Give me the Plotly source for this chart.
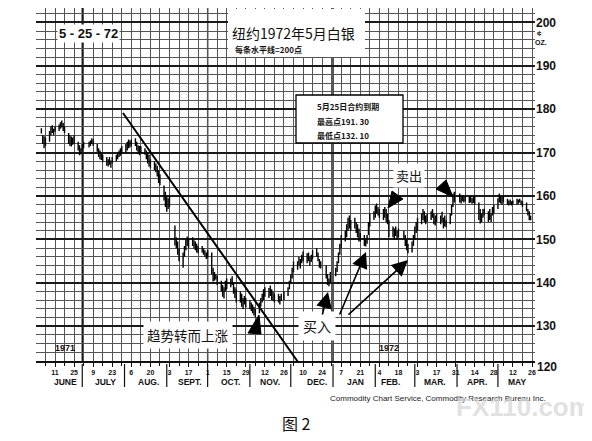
import pandas as pd
import plotly.graph_objects as go

# ---------------- data (weekly blocks of daily bars) ----------------
week_end = pd.date_range("1971-06-04", "1972-05-26", freq="W-FRI")
closed = ["1971-05-31", "1971-07-05", "1971-09-06", "1971-11-25", "1971-12-24",
          "1971-12-31", "1972-02-21", "1972-03-31", "1972-05-26"]

highs = [
    [175.6, 174.0, 173.8, 173.5],
    [175.0, 176.0, 176.3, 175.5, 176.0],
    [176.5, 177.0, 177.4, 176.8, 176.0],
    [174.5, 174.0, 173.7, 173.5, 174.0],
    [172.5, 171.7, 171.0, 172.0, 172.5],
    [172.5, 172.8, 173.3, 173.0],
    [172.0, 171.0, 170.5, 170.0, 169.5],
    [169.0, 168.5, 169.0, 168.2, 169.0],
    [169.5, 170.0, 170.5, 171.0, 171.5],
    [172.0, 172.5, 173.0, 172.8, 173.0],
    [173.3, 172.5, 171.7, 171.5, 171.5],
    [171.0, 170.5, 170.0, 169.5, 168.5],
    [168.0, 167.5, 167.0, 166.0, 165.0],
    [162.4, 161.0, 160.0, 159.5, 160.0],
    [153.2, 150.5, 149.5, 148.0],
    [147.0, 148.5, 150.0, 150.7, 150.2],
    [150.5, 149.8, 149.5, 149.0, 148.5],
    [148.5, 148.0, 147.5, 147.0, 147.5],
    [147.0, 143.5, 142.5, 142.0, 141.7],
    [140.5, 139.5, 139.0, 140.5, 141.0],
    [141.0, 141.5, 140.0, 139.0, 138.5],
    [138.0, 137.5, 136.5, 137.0, 136.5],
    [136.0, 135.5, 135.0, 134.5, 134.0],
    [135.5, 136.5, 137.5, 138.5, 139.0],
    [138.8, 139.4, 138.5, 138.0, 137.5],
    [137.5, 137.0, 137.5, 138.0],
    [139.0, 140.5, 142.0, 143.5, 144.9],
    [145.0, 146.0, 145.5, 146.5, 147.2],
    [146.8, 147.0, 146.0, 146.5, 147.5],
    [148.0, 147.0, 145.5, 145.0],
    [144.0, 142.0, 141.0, 142.5],
    [143.5, 145.0, 147.0, 149.0, 151.0],
    [152.0, 153.5, 155.0, 155.5, 154.5],
    [155.0, 154.0, 153.5, 152.5, 151.5],
    [151.0, 150.0, 151.0, 154.0, 156.0],
    [156.5, 157.8, 158.3, 157.5, 157.0],
    [157.0, 157.5, 157.0, 156.0, 154.5],
    [153.0, 152.5, 153.0, 152.0, 152.5],
    [152.0, 151.0, 150.0, 149.0],
    [149.5, 151.0, 153.0, 154.0, 155.0],
    [156.0, 157.0, 156.5, 155.5, 156.0],
    [156.5, 157.0, 156.0, 155.5, 156.0],
    [155.5, 156.4, 155.0, 155.5, 154.5],
    [156.0, 158.0, 160.5, 161.0],
    [160.6, 160.0, 160.2, 159.8, 160.0],
    [159.8, 160.0, 159.5, 159.8, 160.0],
    [158.5, 157.0, 156.0, 157.0, 157.1],
    [156.5, 157.0, 156.0, 157.5, 158.0],
    [159.5, 160.6, 160.0, 159.8, 160.0],
    [159.4, 159.0, 159.2, 158.8, 159.0],
    [159.4, 159.2, 159.4, 159.0, 158.8],
    [158.5, 157.0, 156.5, 155.5],
]
lows = [
    [174.4, 172.0, 171.0, 171.5],
    [172.5, 174.0, 174.5, 174.0, 174.8],
    [175.0, 175.5, 175.8, 175.0, 174.5],
    [172.0, 171.5, 171.4, 171.8, 172.0],
    [170.5, 169.4, 169.6, 170.5, 171.0],
    [171.2, 171.5, 172.0, 171.6],
    [170.2, 169.0, 168.5, 168.3, 167.8],
    [167.0, 166.8, 167.2, 166.5, 167.5],
    [168.0, 168.5, 169.0, 169.3, 169.8],
    [170.0, 170.5, 171.0, 171.2, 171.5],
    [171.5, 170.5, 169.8, 169.4, 170.0],
    [169.5, 168.5, 167.5, 166.8, 166.4],
    [166.0, 165.5, 164.5, 163.0, 162.5],
    [159.0, 157.5, 156.4, 157.0, 157.5],
    [148.6, 148.0, 146.5, 145.0],
    [143.5, 146.0, 147.5, 148.5, 148.0],
    [148.5, 148.0, 147.5, 147.0, 146.8],
    [147.0, 146.5, 146.0, 145.5, 145.8],
    [142.0, 140.3, 140.5, 140.8, 139.5],
    [138.0, 136.8, 136.4, 138.0, 138.5],
    [139.0, 139.5, 137.5, 136.5, 135.5],
    [135.5, 134.5, 134.0, 135.0, 134.3],
    [134.0, 133.5, 133.0, 132.5, 132.1],
    [133.0, 134.5, 135.5, 136.0, 136.8],
    [136.5, 137.0, 136.0, 135.8, 135.5],
    [135.5, 135.0, 135.8, 136.0],
    [137.0, 138.5, 140.0, 141.0, 142.5],
    [143.0, 144.0, 143.3, 144.5, 145.0],
    [144.5, 145.0, 144.0, 144.8, 145.5],
    [146.0, 145.0, 143.5, 143.3],
    [141.0, 139.5, 139.2, 140.0],
    [141.5, 142.5, 144.5, 146.5, 148.0],
    [149.5, 150.5, 152.0, 152.5, 152.0],
    [152.5, 151.5, 150.5, 149.5, 149.5],
    [148.5, 148.4, 149.0, 151.0, 153.0],
    [154.5, 155.0, 156.0, 155.5, 155.0],
    [154.5, 155.0, 154.0, 153.5, 150.5],
    [150.5, 150.0, 150.8, 150.0, 150.5],
    [150.0, 148.5, 147.5, 146.8],
    [147.0, 148.5, 150.0, 151.5, 152.0],
    [153.5, 154.5, 154.0, 153.5, 154.0],
    [154.5, 155.0, 153.5, 153.2, 154.0],
    [153.5, 154.0, 152.5, 153.0, 152.8],
    [153.5, 155.5, 157.5, 158.5],
    [158.5, 158.3, 158.8, 158.5, 158.8],
    [158.4, 158.5, 158.2, 158.4, 158.0],
    [154.5, 153.7, 154.0, 155.0, 155.5],
    [154.0, 154.5, 154.0, 155.5, 156.0],
    [157.0, 158.5, 158.3, 158.0, 158.5],
    [158.0, 157.8, 158.0, 157.8, 158.0],
    [158.0, 158.2, 158.5, 158.0, 157.5],
    [156.5, 155.5, 154.4, 154.4],
]
closes = [
    [175.0, 172.5, 171.5, 173.0],
    [174.8, 175.5, 175.0, 174.5, 175.6],
    [176.2, 176.5, 176.0, 175.3, 174.8],
    [172.5, 172.0, 173.0, 172.2, 173.5],
    [170.8, 169.8, 170.5, 171.8, 172.0],
    [172.2, 172.6, 172.4, 171.8],
    [170.5, 169.4, 168.8, 169.5, 168.0],
    [167.3, 168.0, 167.5, 167.8, 168.6],
    [169.2, 169.8, 170.2, 170.8, 171.2],
    [171.8, 172.2, 172.0, 172.5, 172.8],
    [171.8, 170.8, 170.2, 171.0, 171.2],
    [169.8, 168.8, 168.0, 167.2, 167.0],
    [166.5, 166.0, 165.0, 163.5, 163.0],
    [159.5, 158.0, 157.0, 158.8, 158.5],
    [149.0, 148.5, 147.0, 145.5],
    [146.5, 148.0, 149.5, 149.0, 149.2],
    [149.5, 148.5, 148.8, 147.5, 147.2],
    [147.5, 147.2, 146.5, 146.8, 146.2],
    [142.5, 141.0, 141.8, 141.2, 140.0],
    [138.5, 137.2, 138.6, 140.0, 140.2],
    [140.5, 139.8, 138.0, 137.0, 136.0],
    [136.0, 135.2, 136.0, 135.5, 134.8],
    [134.5, 134.0, 133.5, 133.0, 133.5],
    [135.0, 136.2, 137.0, 138.0, 137.5],
    [138.0, 137.5, 136.5, 137.0, 136.0],
    [136.0, 136.5, 137.2, 137.8],
    [138.8, 140.2, 141.5, 143.0, 144.0],
    [144.5, 144.8, 145.0, 146.0, 146.5],
    [145.5, 145.2, 145.0, 146.0, 147.0],
    [146.8, 145.5, 144.0, 144.5],
    [141.5, 140.0, 140.5, 142.0],
    [143.0, 144.5, 146.5, 148.5, 150.5],
    [151.5, 153.0, 154.5, 153.0, 152.5],
    [154.0, 152.0, 151.0, 150.0, 150.5],
    [149.0, 149.5, 150.8, 153.5, 155.5],
    [156.0, 157.5, 156.5, 156.0, 156.5],
    [156.5, 155.5, 154.5, 154.0, 151.0],
    [151.0, 152.0, 151.5, 151.0, 151.8],
    [150.5, 149.0, 148.0, 147.5],
    [149.0, 150.5, 152.5, 153.5, 154.0],
    [155.5, 156.0, 155.0, 154.5, 155.5],
    [156.0, 155.5, 154.0, 155.0, 155.5],
    [155.0, 154.5, 153.0, 154.0, 153.5],
    [155.5, 157.5, 160.0, 159.5],
    [159.5, 159.0, 159.8, 159.2, 159.5],
    [159.0, 159.5, 158.8, 159.2, 158.5],
    [155.0, 154.2, 155.5, 156.5, 156.0],
    [155.0, 156.5, 155.0, 157.0, 157.5],
    [159.0, 159.8, 159.0, 159.5, 159.2],
    [158.5, 158.2, 158.8, 158.3, 158.6],
    [159.0, 158.8, 159.0, 158.5, 158.0],
    [157.0, 156.0, 155.0, 154.8],
]

month_names = ["JUNE", "JULY", "AUG.", "SEPT.", "OCT.", "NOV.", "DEC.",
               "JAN", "FEB.", "MAR.", "APR.", "MAY"]
month_starts = ["1971-07-01", "1971-08-01", "1971-09-01", "1971-10-01", "1971-11-01",
                "1971-12-01", "1972-01-01", "1972-02-01", "1972-03-01", "1972-04-01",
                "1972-05-01"]
quarter_lines = ["1971-07-01", "1971-10-01", "1972-01-01"]
y_labels = [130, 140, 150, 160, 170, 180, 190, 200]

# ---------------- expand weekly blocks to trading days ----------------
closed_set = set(pd.to_datetime(closed))
dates, H, Lo, C = [], [], [], []
for fri, hw, lw, cw in zip(week_end, highs, lows, closes):
    days = [d for d in pd.date_range(fri - pd.Timedelta(days=4), fri) if d not in closed_set]
    for d, h, l, c in zip(days, hw, lw, cw):
        dates.append(d); H.append(h); Lo.append(l); C.append(c)

# ---------------- layout geometry (reference page pixels) ----------------
OFF = 8                      # page body margin
FW, FH = 592 - OFF, 441 - OFF
L, R, T, B = 36, 535, 8, 361
PXU = 4.341                  # pixels per cent
ppd = (532 - 55) / 350.0
x0 = pd.Timestamp("1971-06-11") - pd.Timedelta(days=(55 - L) / ppd)
x1 = pd.Timestamp("1972-05-26") + pd.Timedelta(days=(R - 532) / ppd)
y_top = 122 + (B - T) / PXU

def fx(x):
    return (x - L) / (R - L)

def fy(y):
    return (B - y) / (B - T)

NUM = "Liberation Sans Narrow, Liberation Sans, Arial, sans-serif"
CJK = "Noto Sans CJK SC, sans-serif"
WEEK = 7 * 24 * 3600 * 1000

fig = go.Figure()
fig.add_trace(go.Ohlc(
    x=dates, open=C, high=H, low=Lo, close=C,
    increasing=dict(line=dict(color="black", width=1.4)),
    decreasing=dict(line=dict(color="black", width=1.4)),
    tickwidth=0.4, hoverinfo="skip", showlegend=False,
))

shapes = []
for q in quarter_lines:
    shapes.append(dict(type="line", xref="x", yref="paper", x0=q, x1=q, y0=0, y1=1,
                       line=dict(color="#111", width=1.4), layer="below"))
for m in month_starts:
    shapes.append(dict(type="line", xref="x", yref="paper", x0=m, x1=m,
                       y0=fy(364), y1=fy(387), line=dict(color="#111", width=1.2)))
# trend line
shapes.append(dict(type="line", xref="paper", yref="paper",
                   x0=fx(123), y0=fy(113), x1=fx(298), y1=fy(362),
                   line=dict(color="black", width=2)))
# title white area
shapes.append(dict(type="rect", xref="paper", yref="paper",
                   x0=fx(228), x1=fx(365), y0=fy(57), y1=fy(9),
                   fillcolor="white", line=dict(width=0)))
# info box
shapes.append(dict(type="rect", xref="paper", yref="paper",
                   x0=fx(296), x1=fx(403), y0=fy(143), y1=fy(95),
                   fillcolor="white", line=dict(color="black", width=1.3)))

def tri(pts):
    p = " L ".join(f"{fx(a):.5f},{fy(b):.5f}" for a, b in pts)
    return dict(type="path", xref="paper", yref="paper", path="M " + p + " Z",
                fillcolor="black", line=dict(color="black", width=1))

shapes.append(tri([(388, 208), (392, 191), (403, 199)]))   # sell 1
shapes.append(tri([(453, 197), (436, 189), (446, 180)]))   # sell 2
shapes.append(tri([(248, 333), (261, 334), (259, 315)]))   # trend reversal

ann = []

def text(x, y, s, size, font=CJK, color="#111", bold=False, xanchor="center", bg=None, pad=1):
    d = dict(x=fx(x), y=fy(y), xref="paper", yref="paper", text=s, showarrow=False,
             xanchor=xanchor, yanchor="middle",
             font=dict(family=font, size=size, color=color, weight="bold" if bold else "normal"))
    if bg:
        d["bgcolor"] = bg
        d["borderpad"] = pad
    ann.append(d)

text(88, 34, "5 - 25 - 72", 13, font=NUM, bold=True, bg="white", pad=1)
text(293, 33, "纽约1972年5月白银", 14)
text(268, 49, "每条水平线=200点", 8, bold=True)
text(315, 107, "5月25日合约到期", 8, bold=True, xanchor="left")
text(315, 121, "最高点191. 30", 8, bold=True, xanchor="left")
text(315, 135, "最低点132. 10", 8, bold=True, xanchor="left")
text(409, 175, "卖出", 13, bg="white", pad=2)
text(317, 326, "买入", 14, bg="white", pad=4)
text(188, 335, "趋势转而上涨", 13.5, bg="white", pad=3)
text(65, 348, "1971", 9, font=NUM, bold=True)
text(389, 348, "1972", 9, font=NUM, bold=True)
text(547, 367, "120", 12, font=NUM, bold=True)
text(539, 33, "¢", 8, font=NUM, bold=True)
text(541, 42, "OZ.", 7, font=NUM, bold=True)
text(438, 398, "Commodity Chart Service, Commodity Research Bureau Inc.", 8,
     font="Liberation Sans, Arial, sans-serif", color="#222")
text(524, 407, "FX110.com", 26, font="Liberation Sans, Arial, sans-serif",
     color="rgba(215,215,215,0.75)", bold=True)
text(296, 423, "图 2", 16)

month_px = [65, 105, 148, 190, 230, 270, 317, 355, 390, 435, 477, 517]
for name, mx in zip(month_names, month_px):
    text(mx, 382, name, 8.5, font=NUM, bold=True)

for tip, tail in [((328, 292), (322, 316)), ((366, 252), (339, 316)), ((408, 260), (347, 316))]:
    ann.append(dict(x=fx(tip[0]), y=fy(tip[1]), xref="paper", yref="paper",
                    ax=tail[0] - tip[0], ay=tail[1] - tip[1], text="",
                    showarrow=True, arrowhead=2, arrowsize=2.0, arrowwidth=1.6,
                    arrowcolor="black"))

fig.update_layout(
    width=FW, height=FH,
    margin=dict(l=L - OFF, r=FW - (R - OFF), t=T - OFF, b=FH - (B - OFF)),
    paper_bgcolor="white", plot_bgcolor="white",
    showlegend=False, hovermode=False,
    shapes=shapes, annotations=ann,
    xaxis=dict(
        type="date", range=[x0, x1], rangeslider=dict(visible=False),
        tick0="1971-06-11", dtick=2 * WEEK, tickformat="%-d",
        tickfont=dict(family=NUM, size=7, color="#111", weight="bold"),
        ticks="outside", ticklen=4, tickcolor="#111",
        showgrid=True, gridcolor="#555", gridwidth=0.8,
        minor=dict(tick0="1971-06-04", dtick=WEEK, showgrid=True, gridcolor="#555",
                   gridwidth=0.8, ticks="outside", ticklen=3, tickcolor="#111"),
        showline=True, linecolor="#111", linewidth=2, zeroline=False,
        fixedrange=True,
    ),
    yaxis=dict(
        range=[122, y_top], side="right",
        tickvals=y_labels, ticktext=[str(v) for v in y_labels],
        tickfont=dict(family=NUM, size=12, color="#111", weight="bold"),
        ticks="", showgrid=True, gridcolor="#1a1a1a", gridwidth=1.5,
        minor=dict(tick0=120, dtick=2, showgrid=True, gridcolor="#555", gridwidth=0.8),
        zeroline=False, showline=False, fixedrange=True,
    ),
)

fig.write_html("out.html", config={"displayModeBar": False})
